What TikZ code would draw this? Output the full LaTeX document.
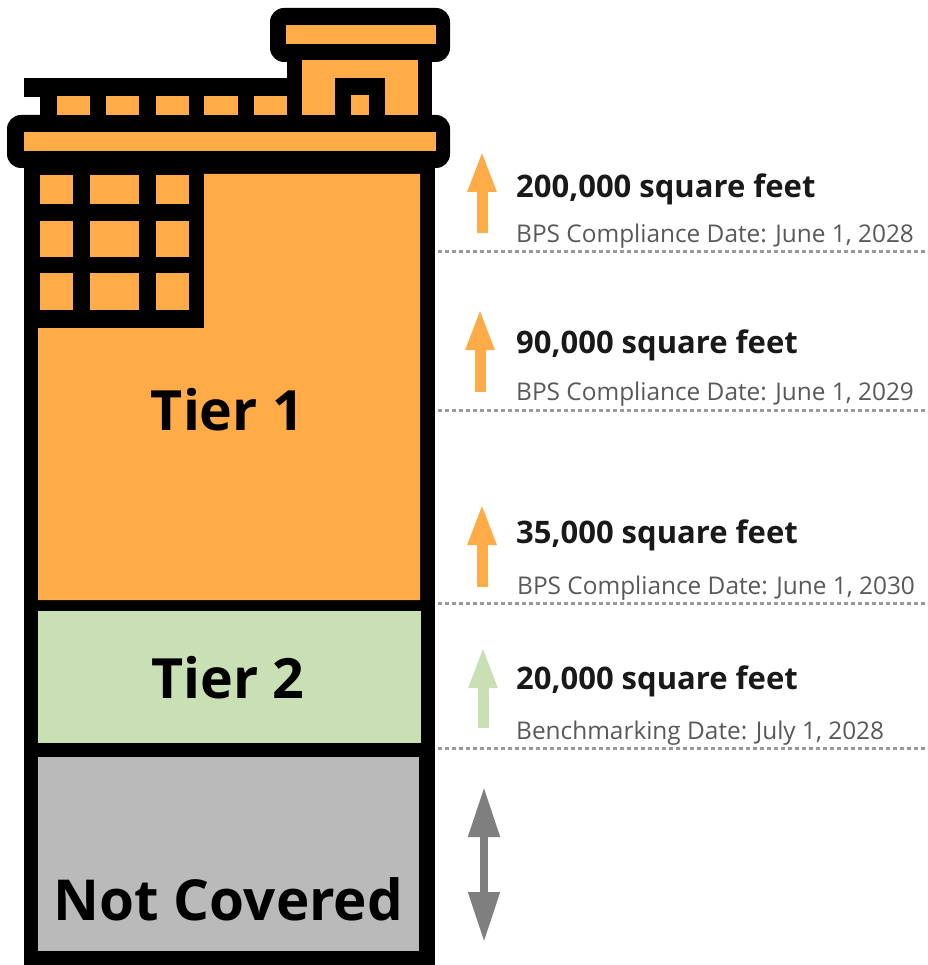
\documentclass[tikz,border=0pt]{standalone}
\usepackage{fontspec}
\setmainfont{Open Sans}
\usetikzlibrary{arrows.meta}
\definecolor{orangefill}{HTML}{FFAB47}
\definecolor{greenfill}{HTML}{C8E0B4}
\definecolor{greyfill}{HTML}{BABABA}
\definecolor{arrowgrey}{HTML}{7F7F7F}
\definecolor{subtext}{HTML}{595959}
\definecolor{dotgrey}{HTML}{9A9A9A}
\tikzset{
  blk/.style={fill=black,draw=none},
  org/.style={fill=orangefill,draw=none},
  tierlabel/.style={anchor=base,inner sep=0pt,font=\fontsize{55.5}{60}\selectfont\bfseries,text=black},
  widelabel/.style={anchor=base,inner sep=0pt,font=\fontsize{56.5}{60}\selectfont\bfseries,text=black},
  sizelabel/.style={anchor=base west,inner sep=0pt,font=\fontsize{31}{34}\selectfont\bfseries,text=black!90},
  datelabel/.style={anchor=base west,inner sep=0pt,font=\fontsize{24.4}{28}\selectfont,text=subtext},
  dotline/.style={draw=dotgrey,line width=3pt,dash pattern=on 3.5pt off 3.5pt},
  uparrow/.style={line width=11pt,-{Triangle[length=42pt,width=26pt]}},
  bothways/.style={draw=arrowgrey,fill=arrowgrey,line width=8pt,{Triangle[length=50pt,width=30pt]}-{Triangle[length=50pt,width=30pt]}}
}
\begin{document}
\begin{tikzpicture}[x=1pt,y=-1pt]
\useasboundingbox (0,0) rectangle (927,965);
% black silhouette
\fill[blk] (24,150) rectangle (435,965);
\fill[blk,rounded corners=14pt] (7,115) rectangle (450,168);
\fill[blk,rounded corners=14pt] (270,8) rectangle (450,62);
\fill[blk] (287,50) rectangle (432,125);
\fill[blk] (24,78) rectangle (290,97);
\fill[blk] (40,97) rectangle (290,125);
% top cap and roof
\fill[org] (286,25) rectangle (436,44);
\fill[org] (302,60) rectangle (418,115);
\fill[blk] (335,78) rectangle (385,115);
\fill[org] (351,95) rectangle (369,115);
\foreach \xa/\xb in {57/90,106/139,156/189,204/238,254/287}
  \fill[org] (\xa,96) rectangle (\xb,115);
\fill[org] (24,132) rectangle (436,151);
% Tier 1 body
\fill[org] (204,174) -- (420,174) -- (420,600) -- (38,600) -- (38,328) -- (204,328) -- cycle;
\foreach \ya/\yb in {175/204,221/257,273/310}
  \foreach \xa/\xb in {40/73,90/139,156/189}
    \fill[org] (\xa,\ya) rectangle (\xb,\yb);
% Tier 2 / Not covered
\fill[greenfill] (38,611) rectangle (421,743);
\fill[greyfill] (38,757) rectangle (419,951);
\node[tierlabel] (t1) at (227.5,430) {Tier 1};
\node[tierlabel] (t2) at (228,698) {Tier 2};
\node[widelabel] (t3) at (228.5,920) {Not Covered};
% dotted lines
\foreach \n/\y in {a/252,b/410,c/603,d/748}{
  \coordinate (dl\n) at (438,\y);
  \coordinate (dr\n) at (930,\y);
  \draw[dotline] (dl\n) -- (dr\n);
}
% arrows
\coordinate (a1s) at (482,233); \coordinate (a1e) at (482,150);
\coordinate (a2s) at (480,392); \coordinate (a2e) at (480,308);
\coordinate (a3s) at (482,587); \coordinate (a3e) at (482,503);
\coordinate (a4s) at (483,728); \coordinate (a4e) at (483,646);
\coordinate (a5s) at (484,942); \coordinate (a5e) at (484,787);
\draw[uparrow,draw=orangefill,fill=orangefill] (a1s) -- (a1e);
\draw[uparrow,draw=orangefill,fill=orangefill] (a2s) -- (a2e);
\draw[uparrow,draw=orangefill,fill=orangefill] (a3s) -- (a3e);
\draw[uparrow,draw=greenfill,fill=greenfill] (a4s) -- (a4e);
\draw[bothways] (a5s) -- (a5e);
% labels
\node[sizelabel] (s1) at (516,198) {200,000 square feet};
\node[datelabel] (d1) at (516,243) {BPS Compliance Date: June 1, 2028};
\node[sizelabel] (s2) at (516,353) {90,000 square feet};
\node[datelabel] (d2) at (516,400) {BPS Compliance Date: June 1, 2029};
\node[sizelabel] (s3) at (516,543) {35,000 square feet};
\node[datelabel] (d3) at (517,594) {BPS Compliance Date: June 1, 2030};
\node[sizelabel] (s4) at (516,689) {20,000 square feet};
\node[datelabel] (d4) at (516,739) {Benchmarking Date: July 1, 2028};
\end{tikzpicture}
\end{document}
